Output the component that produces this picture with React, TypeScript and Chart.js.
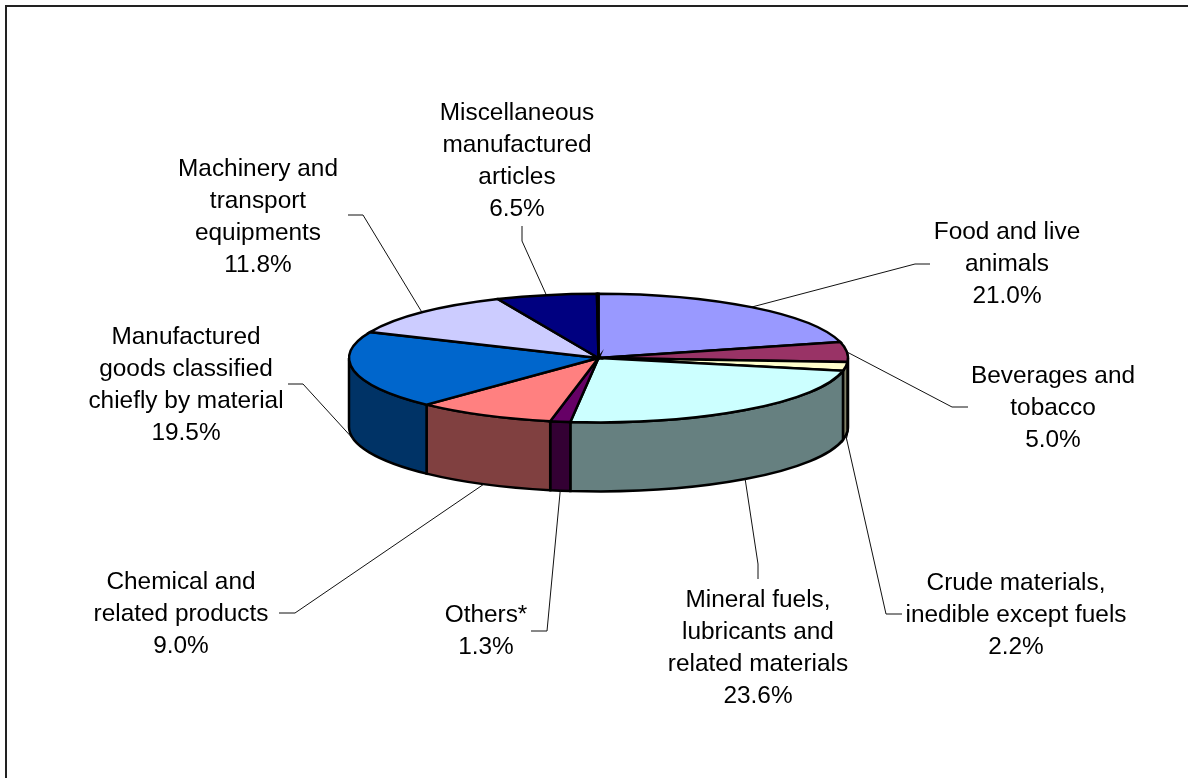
import React, { useEffect, useRef } from "react";
import { Chart, registerables } from "chart.js";

Chart.register(...registerables);

const categories: string[][] = [
  ["Food and live", "animals"],
  ["Beverages and", "tobacco"],
  ["Crude materials,", "inedible except fuels"],
  ["Mineral fuels,", "lubricants and", "related materials"],
  ["Others*"],
  ["Chemical and", "related products"],
  ["Manufactured", "goods classified", "chiefly by material"],
  ["Machinery and", "transport", "equipments"],
  ["Miscellaneous", "manufactured", "articles"],
  [],
];
const shares = [21.0, 5.0, 2.2, 23.6, 1.3, 9.0, 19.5, 11.8, 6.5, 0.1];
const topColors = ["#9999FF", "#993366", "#FFFFCC", "#CCFFFF", "#660066", "#FF8080", "#0066CC", "#CCCCFF", "#000080", "#FF00FF"];
const sideColors = ["#4D4D80", "#4D1A33", "#808066", "#668080", "#330033", "#804040", "#003366", "#666680", "#000040", "#800080"];

// Label layout: text centre x, first line centre y; leader elbow and end of the stub.
const labelCentres = [
  [1007, 232], [1053, 376], [1016, 583], [758, 600], [486, 615],
  [181, 582], [186, 337], [258, 169], [517, 113],
];
const leaderElbows = [
  [915, 264, 930, 264], [952, 407, 968, 407], [886, 614, 902, 614], [758, 564, 758, 579],
  [547, 631, 531, 631], [295, 613, 279, 613], [303, 384, 288, 384], [363, 215, 348, 215], [522, 241, 522, 226],
];

const TILT = 0.258;
const DEPTH = 69;
const LINE_GAP = 32;
const FONT = '24.4px "Liberation Sans", Arial, sans-serif';

const pie3d = {
  id: "pie3d",
  beforeDraw(chart: any) {
    const { ctx } = chart;
    ctx.save();
    ctx.fillStyle = "#fff";
    ctx.fillRect(0, 0, chart.width, chart.height);
    ctx.strokeStyle = "#222";
    ctx.lineWidth = 2;
    ctx.beginPath();
    ctx.moveTo(6, chart.height);
    ctx.lineTo(6, 6);
    ctx.lineTo(chart.width, 6);
    ctx.stroke();
    ctx.restore();
  },
  beforeDatasetDraw(chart: any, args: any) {
    const { ctx } = chart;
    const arcs = args.meta.data;
    ctx.save();
    ctx.strokeStyle = "#000";
    ctx.lineWidth = 2.5;
    ctx.lineJoin = "miter";

    // Side walls (only the part of the rim facing the viewer)
    arcs.forEach((arc: any, i: number) => {
      const { x, y, outerRadius: r, startAngle, endAngle } = arc;
      const ry = r * TILT;
      const a = Math.max(startAngle, 0);
      const b = Math.min(endAngle, Math.PI);
      if (b <= a) return;
      ctx.beginPath();
      ctx.ellipse(x, y, r, ry, 0, a, b);
      ctx.ellipse(x, y + DEPTH, r, ry, 0, b, a, true);
      ctx.closePath();
      ctx.fillStyle = sideColors[i];
      ctx.fill();
      ctx.stroke();
    });

    // Leader lines
    ctx.lineWidth = 1;
    ctx.strokeStyle = "#111";
    leaderElbows.forEach((e, i) => {
      const arc = arcs[i];
      const { x, y, outerRadius: r, startAngle, endAngle } = arc;
      const mid = (startAngle + endAngle) / 2;
      const onWall = Math.sin(mid) > 0;
      const px = x + r * Math.cos(mid);
      const py = y + r * TILT * Math.sin(mid) + (onWall ? DEPTH : 0);
      ctx.beginPath();
      ctx.moveTo(px, py);
      ctx.lineTo(e[0], e[1]);
      ctx.lineTo(e[2], e[3]);
      ctx.stroke();
    });

    // Top face
    ctx.lineWidth = 2.5;
    ctx.strokeStyle = "#000";
    arcs.forEach((arc: any, i: number) => {
      const { x, y, outerRadius: r, startAngle, endAngle } = arc;
      ctx.beginPath();
      ctx.moveTo(x, y);
      ctx.ellipse(x, y, r, r * TILT, 0, startAngle, endAngle);
      ctx.closePath();
      ctx.fillStyle = topColors[i];
      ctx.fill();
      ctx.stroke();
    });
    ctx.restore();
    return false;
  },
  afterDraw(chart: any) {
    const { ctx } = chart;
    ctx.save();
    ctx.font = FONT;
    ctx.fillStyle = "#000";
    ctx.textAlign = "center";
    ctx.textBaseline = "middle";
    labelCentres.forEach(([cx, cy], i) => {
      const lines = [...categories[i], shares[i].toFixed(1) + "%"];
      lines.forEach((t, j) => ctx.fillText(t, cx, cy + j * LINE_GAP));
    });
    ctx.restore();
  },
};

export default function App() {
  const ref = useRef<HTMLCanvasElement>(null);
  useEffect(() => {
    const chart = new Chart(ref.current as HTMLCanvasElement, {
      type: "pie",
      data: {
        labels: categories.map((c) => c.join(" ")),
        datasets: [{ data: shares, backgroundColor: topColors, borderWidth: 0 }],
      },
      options: {
        animation: false,
        responsive: false,
        layout: { padding: { left: 349, right: 340, top: 108, bottom: 170 } },
        plugins: { legend: { display: false }, tooltip: { enabled: false } },
      },
      plugins: [pie3d],
    });
    return () => chart.destroy();
  }, []);
  return (
    <div style={{ position: "absolute", left: 0, top: 0 }}>
      <canvas ref={ref} width={1188} height={778} style={{ display: "block" }} />
    </div>
  );
}
